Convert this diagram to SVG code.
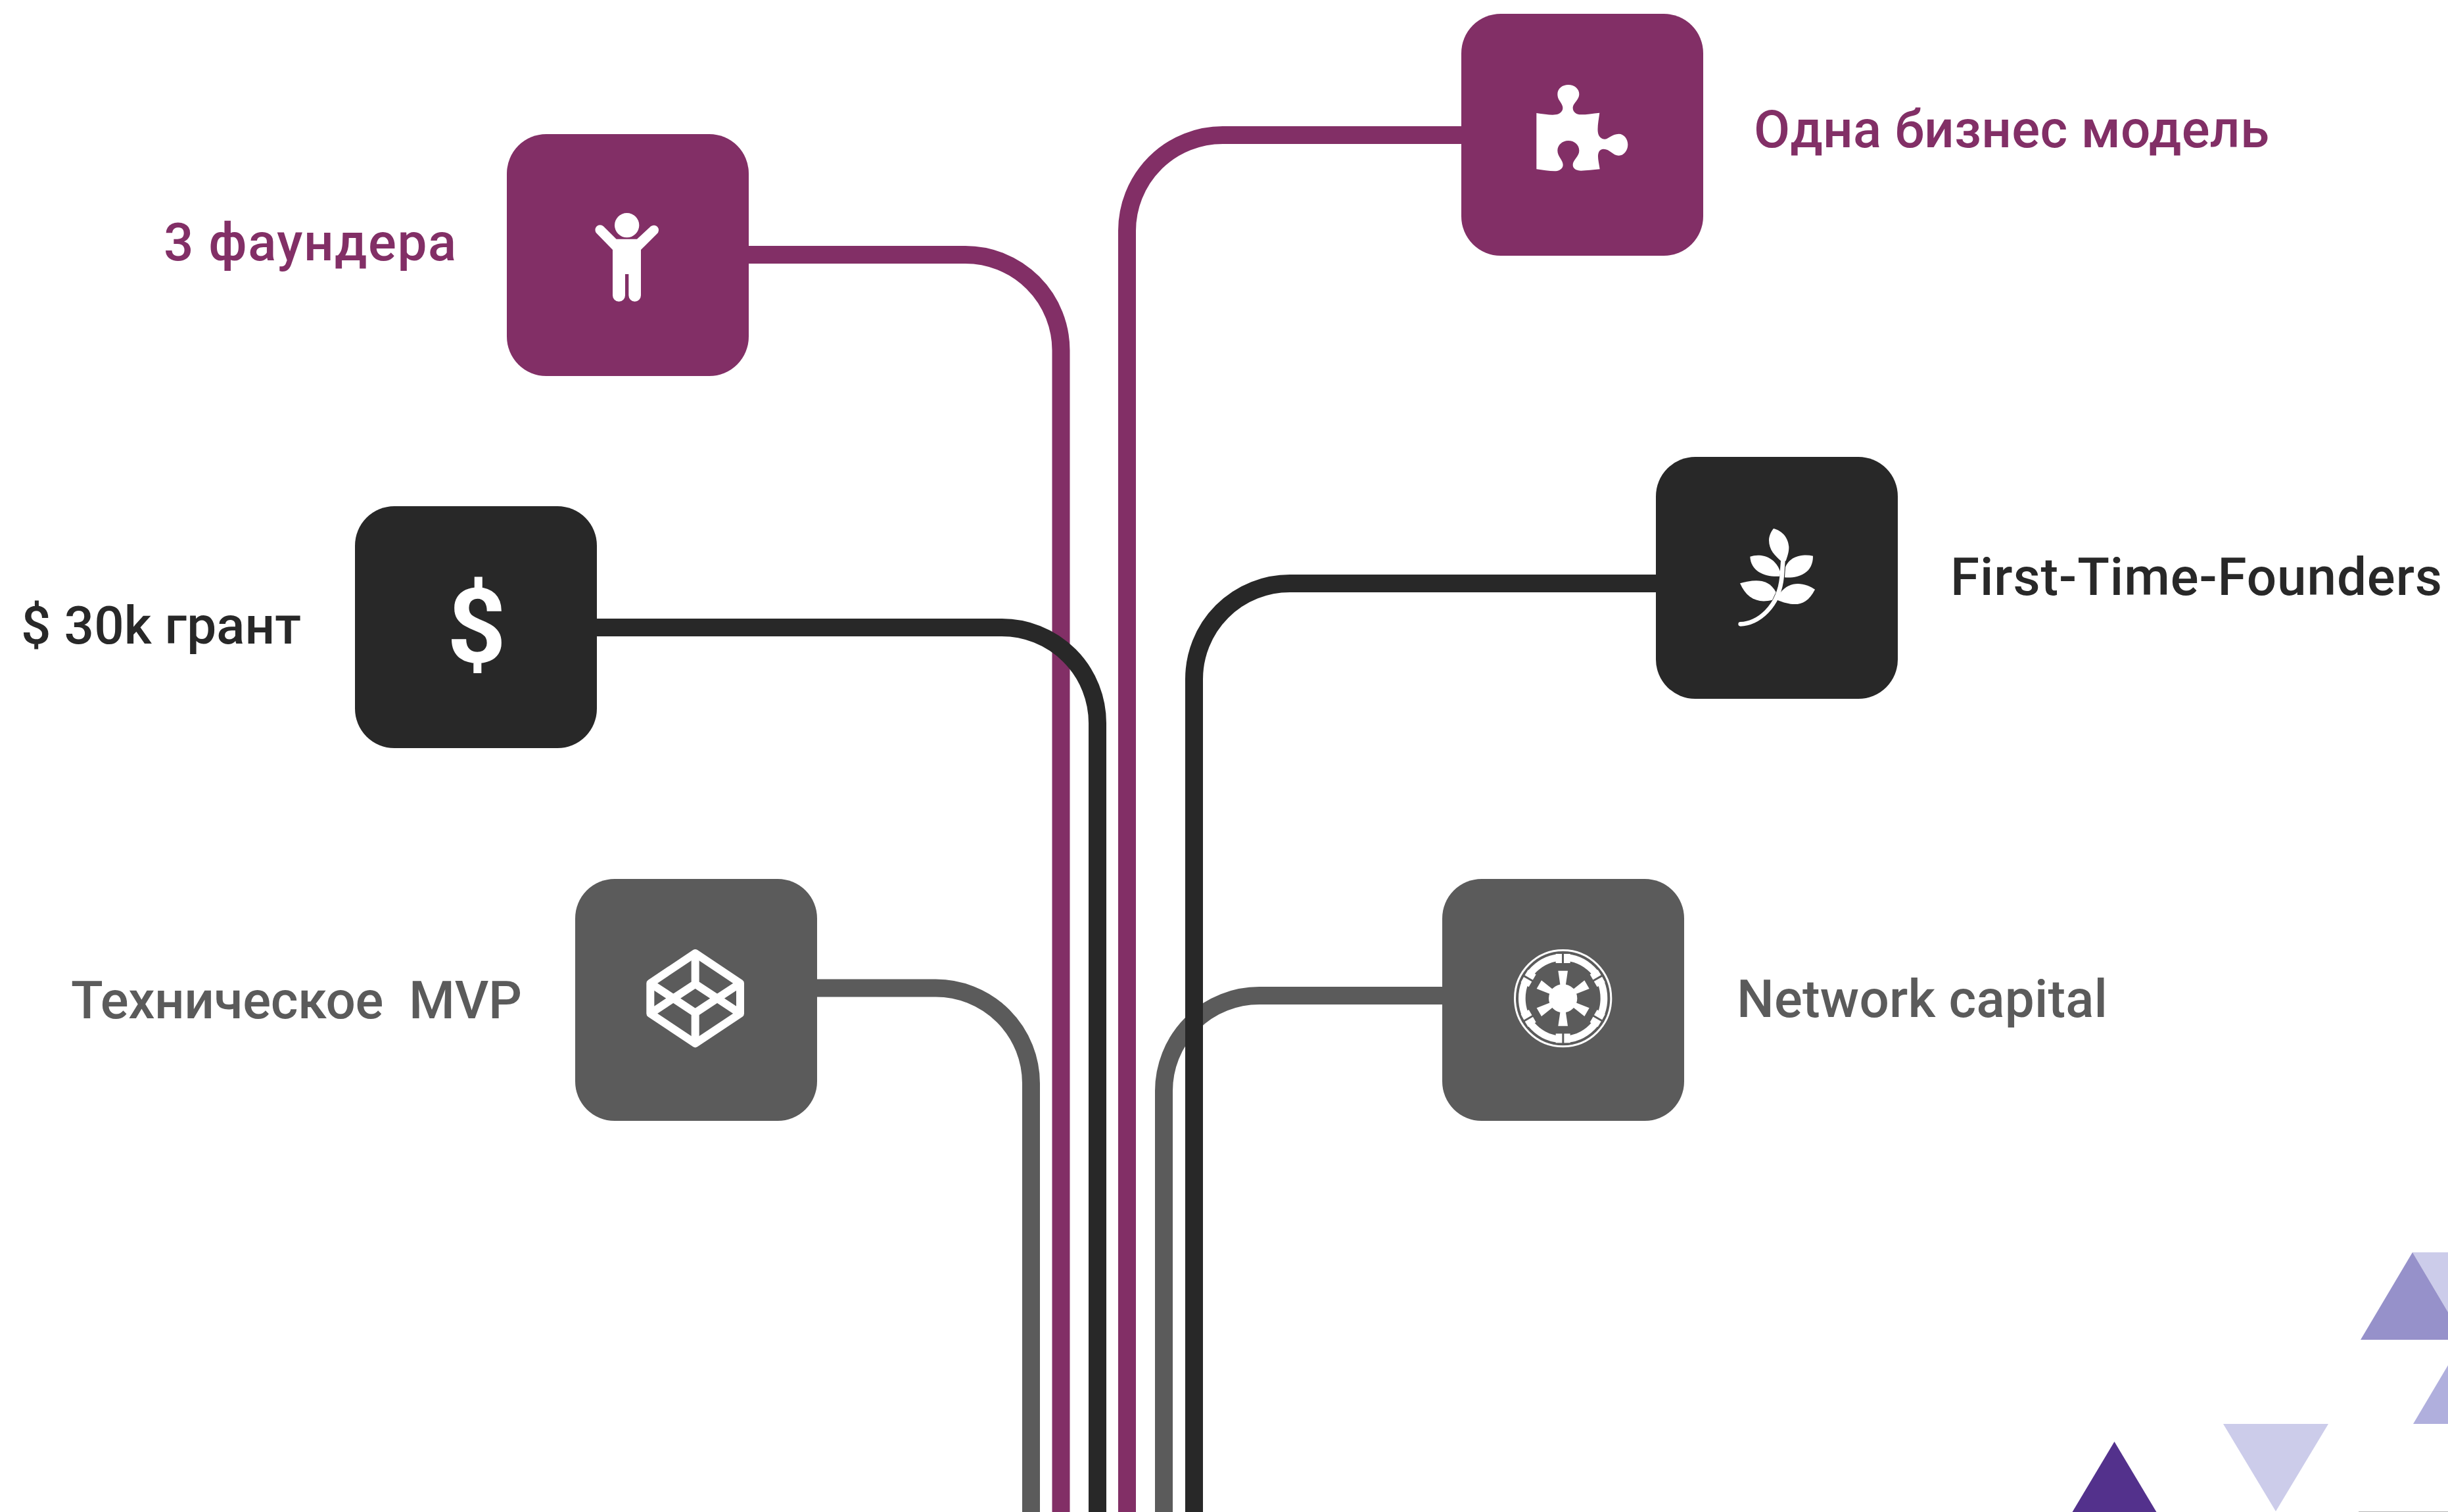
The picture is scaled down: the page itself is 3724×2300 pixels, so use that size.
<svg xmlns="http://www.w3.org/2000/svg" width="3724" height="2300" viewBox="0 0 3724 2300">
<style>
.line{fill:none;stroke-width:27}
.p{stroke:#822f66}.d{stroke:#282828}.g{stroke:#5b5b5b}
.fp{fill:#822f66}.fd{fill:#282828}.fg{fill:#5b5b5b}
text{font-family:Roboto,"Noto Sans",sans-serif;font-size:80px;font-weight:500}
.tp{fill:#822f66}.td{fill:#282828}.tg{fill:#5b5b5b}
.ic{fill:#fff}
</style>
<defs>
<g id="ringpart"><rect x="530" y="363" width="66" height="42" fill="#fff"/><rect x="558" y="352" width="9" height="58" fill="#5b5b5b"/></g>
<polygon id="spoke" points="541,440 585,440 574,515 552,515" fill="#fff"/>
</defs>
<rect width="3724" height="2300" fill="#fff"/>
<g id="decor">
<polygon points="3670,1905 3828,1905 3749,2038" fill="#ccccea"/>
<polygon points="3591,2038 3670,1905 3749,2038" fill="#9691ca"/>
<polygon points="3671,2166 3750,2033 3829,2166" fill="#b0afdd"/>
<polygon points="3382,2166 3542,2166 3462,2299" fill="#ccccea"/>
<polygon points="3137,2326 3216.500,2193 3296,2326" fill="#53318c"/>
<rect x="3588" y="2299" width="136" height="1" fill="#b5b5b5"/>
</g>
<g id="connectors">
<path class="line g" d="M1242 1503H1423.500A145 145 0 0 1 1568.500 1648V2300"/>
<path class="line p" d="M1139 387.500H1468.500A145.500 145.500 0 0 1 1614 533V2300"/>
<path class="line d" d="M908 954.500H1524A145.500 145.500 0 0 1 1669.500 1100V2300"/>
<path class="line p" d="M2223 205.500H1860A145.500 145.500 0 0 0 1714.500 351V2300"/>
<path class="line g" d="M2194 1514.500H1915.500A145 145 0 0 0 1770.500 1659.500V2300"/>
<path class="line d" d="M2519 887.500H1962A145.500 145.500 0 0 0 1816.500 1033V2300"/>
</g>
<g id="node-founders">
<rect x="771" y="204" width="368" height="368" rx="60" class="fp"/>
<g transform="translate(760 190) scale(.33333)" class="ic">
<circle cx="581" cy="458" r="56"/>
<path d="M533 521L474 463A20 20 0 0 0 443 495L516 570V778A28 28 0 0 0 573 778V681H589V778A28 28 0 0 0 645 778V570L718 497A20 20 0 0 0 690 463L627 521Z"/>
</g>
<text x="249" y="396" textLength="445" class="tp">3 фаундера</text>
</g>
<g id="node-model">
<rect x="2223" y="21" width="368" height="368" rx="60" class="fp"/>
<g transform="translate(2220 10) scale(.33333)" class="ic">
<path d="M352 486C385 491 420 496 440 493C462 490 478 472 470 452C462 432 448 425 448 400C448 372 472 357 497 357C525 357 547 375 547 400C547 425 520 440 518 460C517 482 535 493 555 493C580 493 610 488 640 485C636 515 630 545 632 570C634 595 650 606 665 605C685 602 695 582 728 581C752 581 769 605 769 630C769 658 750 680 728 680C700 680 688 650 658 650C640 650 633 665 633 685C633 700 638 720 641 742C610 745 580 749 555 749C535 749 518 740 518 722C518 700 547 685 547 658C547 630 525 612 497 612C470 612 448 632 448 657C448 685 473 700 473 722C473 740 455 751 435 751C410 751 380 746 352 742Z"/>
</g>
<text x="2668" y="224" textLength="784" class="tp">Одна бизнес модель</text>
</g>
<g id="node-grant">
<rect x="540" y="770" width="368" height="368" rx="60" class="fd"/>
<text x="725" y="1007" text-anchor="middle" style="font-size:157px;font-weight:700;fill:#fff">$</text>
<text x="32" y="979" textLength="426" class="td">$ 30k грант</text>
</g>
<g id="node-first-time">
<rect x="2519" y="695" width="368" height="368" rx="60" class="fd"/>
<g transform="translate(2520 690) scale(.33333)" class="ic">
<path d="M383 778C460 778 560 700 572 560L577 490" fill="none" stroke="#fff" stroke-width="20" stroke-linecap="round"/>
<path d="M534 342C565 350 600 375 604 425C605 450 595 475 590 490L570 492C540 465 513 440 513 395C513 375 525 352 534 342Z"/>
<path d="M427 470C470 455 540 465 565 540L562 560C500 565 430 540 427 470Z"/>
<path d="M714 467C670 458 610 465 588 518L585 565C640 570 715 550 714 467Z"/>
<path d="M381 592C440 575 510 565 545 632L528 668C460 685 410 660 381 592Z"/>
<path d="M723 620C680 590 610 575 565 635L550 668C620 695 680 705 723 620Z"/>
</g>
<text x="2967" y="905" textLength="748" class="td">First-Time-Founders</text>
</g>
<g id="node-mvp">
<rect x="875" y="1337" width="368" height="368" rx="60" class="fg"/>
<g transform="translate(860 1330) scale(.33333)" fill="none" stroke="#fff" stroke-width="36" stroke-linejoin="round">
<path d="M593 360L798 497V635L593 772L388 635V497Z"/>
<path d="M388 497L593 632L798 497M388 635L593 500L798 635M593 360V500M593 632V772"/>
</g>
<text x="108" y="1549" textLength="686" class="tg" xml:space="preserve">Техническое  MVP</text>
</g>
<g id="node-network">
<rect x="2194" y="1337" width="368" height="368" rx="60" class="fg"/>
<g transform="translate(2190 1330) scale(.33333)">
<circle cx="563" cy="566" r="219.500" fill="none" stroke="#fff" stroke-width="9"/>
<circle cx="563" cy="566" r="187" fill="none" stroke="#fff" stroke-width="32"/>
<use href="#ringpart"/>
<use href="#ringpart" transform="rotate(60 563 566)"/>
<use href="#ringpart" transform="rotate(120 563 566)"/>
<use href="#ringpart" transform="rotate(180 563 566)"/>
<use href="#ringpart" transform="rotate(240 563 566)"/>
<use href="#ringpart" transform="rotate(300 563 566)"/>
<use href="#spoke"/>
<use href="#spoke" transform="rotate(60 563 566)"/>
<use href="#spoke" transform="rotate(120 563 566)"/>
<use href="#spoke" transform="rotate(180 563 566)"/>
<use href="#spoke" transform="rotate(240 563 566)"/>
<use href="#spoke" transform="rotate(300 563 566)"/>
<circle cx="563" cy="566" r="65" fill="#fff"/>
</g>
<text x="2642" y="1547" textLength="564" class="tg">Network capital</text>
</g>
</svg>
